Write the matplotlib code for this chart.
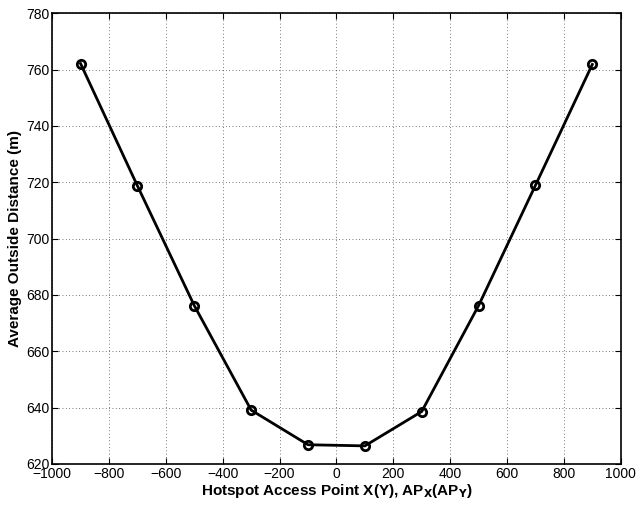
import matplotlib

matplotlib.use("Agg")
import matplotlib.pyplot as plt  # noqa: E402

ap_pos = [-900, -700, -500, -300, -100, 100, 300, 500, 700, 900]
avg_dist = [762.1, 718.7, 676.2, 639.1, 626.8, 626.4, 638.6, 676.2, 718.9, 761.8]

plt.rcParams["font.family"] = ["Liberation Sans", "DejaVu Sans"]

fig = plt.figure(figsize=(6.36, 5.07), dpi=100)
ax = fig.add_axes([0.082, 0.085, 0.894, 0.889])

ax.plot(ap_pos, avg_dist, "k-", lw=2, marker="o", ms=6, mfc="none", mec="k", mew=2)

ax.set_xlim(-1000, 1000)
ax.set_ylim(620, 780)
ax.set_xticks(range(-1000, 1001, 200))
ax.set_yticks(range(620, 781, 20))
ax.tick_params(direction="in", top=True, right=True, labelsize=10, length=4, pad=2)
ax.grid(True, ls=(0, (1, 3)), color="k", lw=0.6, alpha=0.7)
for s in ax.spines.values():
    s.set_linewidth(1.2)

ax.set_xlabel(r"Hotspot Access Point X(Y), AP$_\mathbf{X}$(AP$_\mathbf{Y}$)",
              fontsize=11, fontweight="bold", labelpad=1)
ax.set_ylabel("Average Outside Distance (m)", fontsize=11, fontweight="bold", labelpad=3)

fig.savefig("out.png", dpi=100)
